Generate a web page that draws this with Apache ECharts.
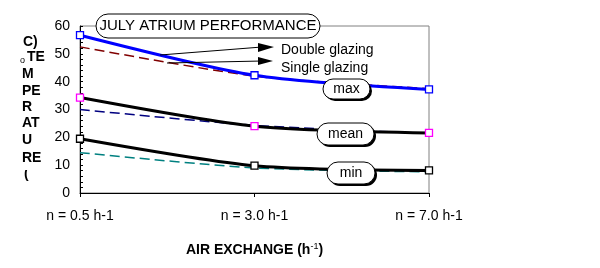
<!DOCTYPE html>
<html><head><meta charset="utf-8">
<script src="https://cdn.jsdelivr.net/npm/echarts@6/dist/echarts.min.js"></script>
<style>html,body{margin:0;padding:0;background:#fff}#c{width:600px;height:268px}</style>
</head><body><div id="c"></div>
<script>
var categories = ['n = 0.5 h-1', 'n = 3.0 h-1', 'n = 7.0 h-1'];
var doubleMax = [56.7, 42.3, 37.2];
var doubleMean = [34.3, 24.0, 21.6];
var doubleMin = [19.5, 9.8, 8.1];
var singleMax = [52.5, 42.0, 37.5];
var singleMean = [30.0, 24.3, 21.4];
var singleMin = [14.5, 9.0, 7.6];
var yTicks = [0, 10, 20, 30, 40, 50, 60];
var yAxisWords = ['C)', 'TE', 'M', 'PE', 'R', 'AT', 'U', 'RE'];

var F = 'Arial, "Liberation Sans", sans-serif';
var chart = echarts.init(document.getElementById('c'));

function dashed(name, data, color) {
  return {name: name, type: 'line', data: data, smooth: 0.25, symbol: 'none', z: 2,
    lineStyle: {color: color, width: 1.5, type: [10, 5]}};
}
function solid(name, data, color, mcolor) {
  return {name: name, type: 'line', data: data, smooth: 0.25, symbol: 'rect', symbolSize: 7, z: 3,
    lineStyle: {color: color, width: 3},
    itemStyle: {color: '#fff', borderColor: mcolor, borderWidth: 1.3}};
}

var ywords = [];
var ypos = [43, 58, 75, 92, 108, 124, 141, 159];
var xpos = [23, 27, 22, 22, 22, 22, 22, 22];
yAxisWords.forEach(function (w, i) {
  ywords.push({type: 'text', left: xpos[i], top: ypos[i] - 8, z: 50,
    style: {text: w, font: 'bold 14px ' + F, fill: '#000'}});
});

function pill(x, y, w, h, txt, shadow, fs) {
  var els = [];
  if (shadow) els.push({type: 'rect', shape: {x: x + 2, y: y + 2, width: w, height: h, r: h / 2}, z: 60,
    style: {fill: '#000'}});
  els.push({type: 'rect', shape: {x: x, y: y, width: w, height: h, r: h / 2}, z: 61,
    style: {fill: '#fff', stroke: '#000', lineWidth: 1}});
  els.push({type: 'text', x: x + w / 2, y: y + h / 2, z: 62,
    style: {text: txt, font: fs + 'px ' + F, fill: '#000', align: 'center', verticalAlign: 'middle'}});
  return els;
}

var graphics = [].concat(
  ywords,
  [{type: 'text', left: 20, top: 56, z: 50, style: {text: 'o', font: '9px ' + F, fill: '#000'}},
   {type: 'text', left: 24, top: 167, z: 50, style: {text: '(', font: 'bold 14px ' + F, fill: '#000'}},
   {type: 'rect', shape: {x: 18, y: 165, width: 16, height: 5}, z: 51, style: {fill: '#fff'}}],
  pill(96, 14, 224, 24, 'JULY ATRIUM PERFORMANCE', false, 15),
  pill(323, 79, 47, 20, 'max', true, 14),
  pill(317, 123, 57, 22, 'mean', true, 14),
  pill(327, 162, 48, 22, 'min', true, 14),
  [
    {type: 'line', shape: {x1: 160, y1: 55, x2: 262, y2: 47}, z: 40, style: {stroke: '#000', lineWidth: 1}},
    {type: 'polygon', shape: {points: [[258, 43], [274, 47], [258, 52]]}, z: 40, style: {fill: '#000'}},
    {type: 'line', shape: {x1: 167, y1: 63, x2: 262, y2: 61}, z: 40, style: {stroke: '#000', lineWidth: 1}},
    {type: 'polygon', shape: {points: [[258, 57], [273, 61], [258, 65]]}, z: 40, style: {fill: '#000'}},
    {type: 'text', left: 281, top: 43, z: 50, style: {text: 'Double glazing', font: '14px ' + F, fill: '#000'}},
    {type: 'text', left: 281, top: 61, z: 50, style: {text: 'Single glazing', font: '14px ' + F, fill: '#000'}}
  ]
);

chart.setOption({
  animation: false,
  backgroundColor: '#fff',
  grid: {left: 80, right: 171, top: 26, bottom: 75, show: true, borderColor: '#808080', borderWidth: 1},
  xAxis: {type: 'category', data: categories, boundaryGap: false,
    axisLine: {lineStyle: {color: '#000', width: 1}},
    axisTick: {show: true, length: 4, lineStyle: {color: '#000'}},
    axisLabel: {color: '#000', fontSize: 14, fontFamily: F, margin: 16},
    name: 'AIR EXCHANGE (h{s|-1})', nameLocation: 'middle', nameGap: 49,
    nameTextStyle: {color: '#000', fontSize: 14, fontWeight: 'bold', fontFamily: F,
      rich: {s: {fontSize: 9, fontWeight: 'normal', verticalAlign: 'top', padding: [0, 0, 8, 0]}}}
  },
  yAxis: {type: 'value', min: yTicks[0], max: yTicks[yTicks.length - 1], interval: 10,
    axisLine: {show: true, lineStyle: {color: '#000', width: 1}},
    axisTick: {show: true, inside: true, length: 3, lineStyle: {color: '#000'}},
    minorTick: {show: true, splitNumber: 5, length: 3, lineStyle: {color: '#000'}},
    splitLine: {show: false},
    axisLabel: {color: '#000', fontSize: 14, fontFamily: F, margin: 10,
      formatter: function (v) { return yTicks.indexOf(v) >= 0 ? String(v) : ''; }}
  },
  series: [
    dashed('Single max', singleMax, '#800000'),
    dashed('Single mean', singleMean, '#000080'),
    dashed('Single min', singleMin, '#008080'),
    solid('Double max', doubleMax, '#0000ff', '#0000ff'),
    solid('Double mean', doubleMean, '#000', '#ff00ff'),
    solid('Double min', doubleMin, '#000', '#000')
  ],
  graphic: graphics
});
</script></body></html>
